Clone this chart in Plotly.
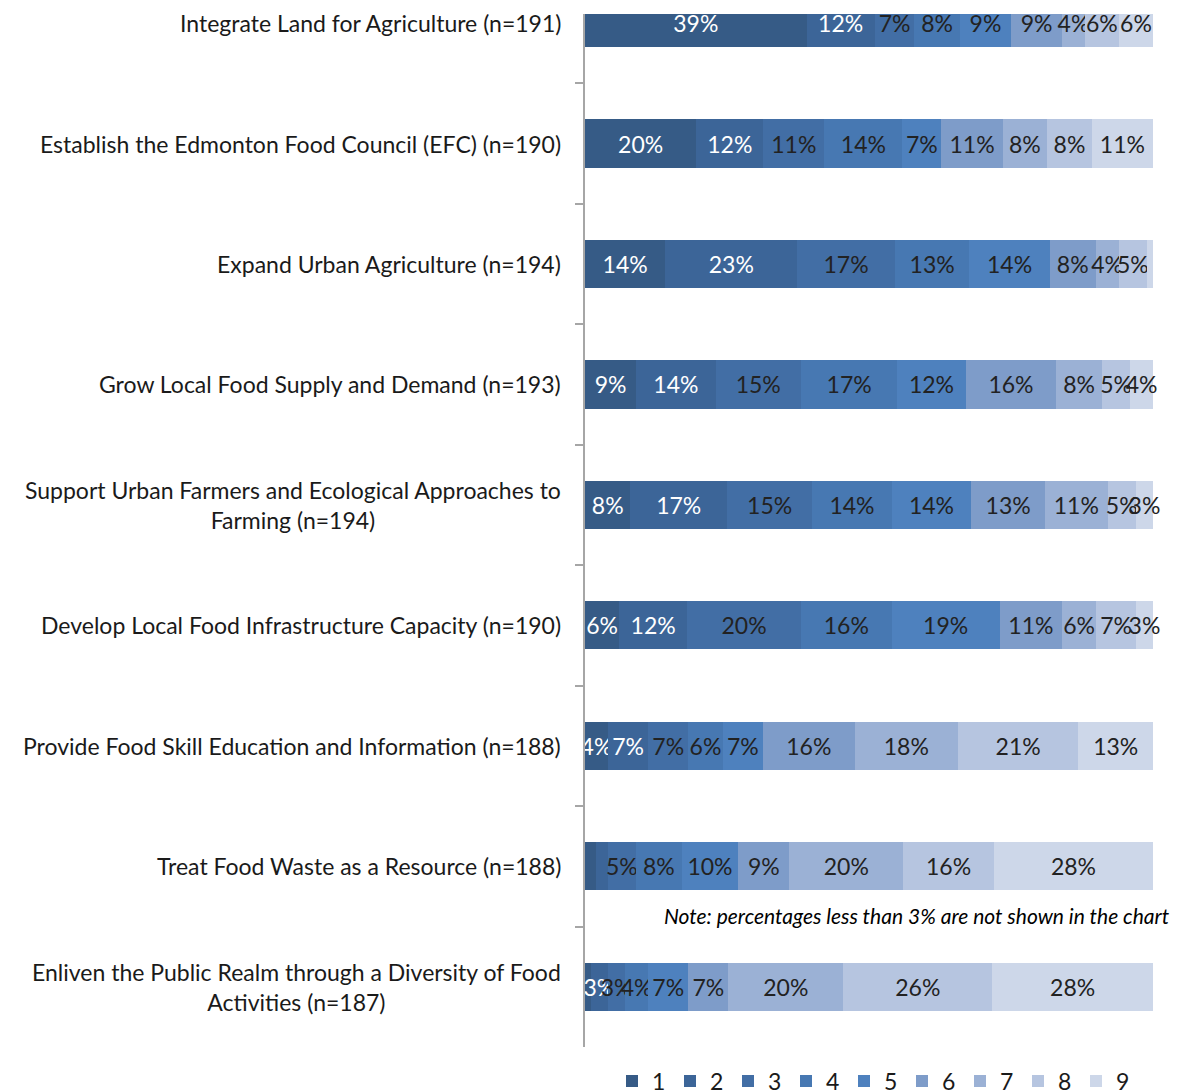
import numpy as np
import plotly.graph_objects as go

categories = [
    "Integrate Land for Agriculture (n=191)",
    "Establish the Edmonton Food Council (EFC) (n=190)",
    "Expand Urban Agriculture (n=194)",
    "Grow Local Food Supply and Demand (n=193)",
    "Support Urban Farmers and Ecological Approaches to<br>Farming (n=194)",
    "Develop Local Food Infrastructure Capacity (n=190)",
    "Provide Food Skill Education and Information (n=188)",
    "Treat Food Waste as a Resource (n=188)",
    "Enliven the Public Realm through a Diversity of Food<br>Activities (n=187)",
]

ratings = ["1", "2", "3", "4", "5", "6", "7", "8", "9"]

# percentage of respondents per rating, one list per rating (rows follow categories)
r1 = [39, 20, 14, 9, 8, 6, 4, 2, 1]
r2 = [12, 12, 23, 14, 17, 12, 7, 2, 3]
r3 = [7, 11, 17, 15, 15, 20, 7, 5, 3]
r4 = [8, 14, 13, 17, 14, 16, 6, 8, 4]
r5 = [9, 7, 14, 12, 14, 19, 7, 10, 7]
r6 = [9, 11, 8, 16, 13, 11, 16, 9, 7]
r7 = [4, 8, 4, 8, 11, 6, 18, 20, 20]
r8 = [6, 8, 5, 5, 5, 7, 21, 16, 26]
r9 = [6, 11, 1, 4, 3, 3, 13, 28, 28]
series = [r1, r2, r3, r4, r5, r6, r7, r8, r9]

colors = ["#365b86", "#3c6598", "#426ea5", "#4778b2", "#4e81be",
          "#7e9cc9", "#9bb1d5", "#b6c5e0", "#cdd7e9"]
text_colors = ["#ffffff", "#ffffff"] + ["#222222"] * 7

FONT = "Lato"
FS = 23

# 100% stacked: normalise each row
vals = np.array(series, dtype=float)            # shape (rating, row)
norm = vals / vals.sum(axis=0) * 100.0

fig = go.Figure()
for i, (name, col, tcol) in enumerate(zip(ratings, colors, text_colors)):
    fig.add_trace(go.Bar(
        y=categories, x=norm[i], name=name, orientation="h",
        marker=dict(color=col, line=dict(width=0)),
        text=[f"{int(v)}%" if v >= 3 else "" for v in series[i]],
        textposition="inside", insidetextanchor="middle", textangle=0,
        constraintext="none", cliponaxis=False,
        textfont=dict(family=FONT, size=FS, color=tcol),
        hoverinfo="skip",
    ))

# the page body adds an 8px offset; work in reference (screen) pixels
OFF = 8
W, H = 1178 - OFF, 1091 - OFF
PL, PR, PT, PB = 585, 1153, 14, 1047          # plot area in screen pixels
L, R, T, B = PL - OFF, (W + OFF) - PR, PT - OFF, (H + OFF) - PB
pw = PR - PL
ph = PB - PT

annotations = []
for c in categories:
    annotations.append(dict(
        x=(563 - PL) / pw, xref="paper", y=c, yref="y",
        text=c, showarrow=False, xanchor="right", yanchor="middle",
        align="center", font=dict(family=FONT, size=FS, color="#1a1a1a"),
    ))
annotations.append(dict(
    x=(1172 - PL) / pw, xref="paper", y=(PB - 915) / ph, yref="paper",
    text="<i>Note: percentages less than 3% are not shown in the chart</i>",
    showarrow=False, xanchor="right", yanchor="middle",
    font=dict(family=FONT, size=21, color="#000000"),
))

fig.update_layout(
    width=W, height=H,
    margin=dict(l=L, r=R, t=T, b=B, pad=0),
    barmode="stack", bargap=0.6,
    paper_bgcolor="white", plot_bgcolor="white",
    xaxis=dict(visible=False, range=[0, 100], fixedrange=True),
    yaxis=dict(
        type="category", categoryorder="array", categoryarray=categories,
        range=[8.5, -0.075], showticklabels=False,
        tickson="boundaries", ticks="outside", ticklen=8,
        tickcolor="#a6a6a6", tickwidth=2,
        showline=True, linecolor="#a6a6a6", linewidth=2,
        showgrid=False, zeroline=False,
    ),
    showlegend=True,
    legend=dict(
        orientation="h", xref="paper", x=(612 - PL) / pw, xanchor="left",
        yref="container", y=(1091 - 1081) / H, yanchor="middle",
        traceorder="normal",
        entrywidth=13, entrywidthmode="pixels", itemwidth=30,
        font=dict(family=FONT, size=FS, color="#1a1a1a"),
        bgcolor="rgba(0,0,0,0)",
    ),
    annotations=annotations,
    font=dict(family=FONT),
)

fig.write_html("out.html")
